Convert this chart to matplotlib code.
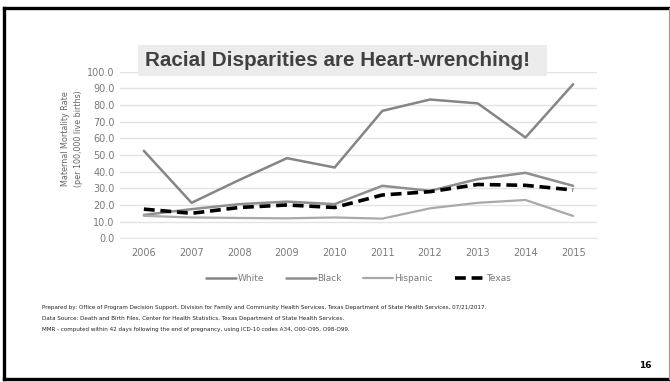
import matplotlib
matplotlib.use("Agg")
import matplotlib.pyplot as plt
from matplotlib.patches import Rectangle
from matplotlib.lines import Line2D
from matplotlib import font_manager

years = ["2006", "2007", "2008", "2009", "2010", "2011", "2012", "2013", "2014", "2015"]
white = [52.5, 21.3, 35.0, 48.1, 42.5, 76.5, 83.3, 81.0, 60.5, 92.5]
black = [14.0, 17.5, 20.5, 22.0, 20.5, 31.5, 28.5, 35.5, 39.3, 31.5]
hispanic = [13.5, 12.5, 12.2, 12.0, 12.5, 11.8, 18.0, 21.3, 23.0, 13.4]
texas = [17.5, 15.0, 18.5, 20.0, 18.5, 26.0, 28.0, 32.3, 31.8, 29.0]
yticks = [0, 10, 20, 30, 40, 50, 60, 70, 80, 90, 100]

names = {f.name for f in font_manager.fontManager.ttflist}
narrow = "Liberation Sans Narrow" if "Liberation Sans Narrow" in names else "DejaVu Sans"

fig = plt.figure(figsize=(6.7, 3.82), dpi=100)
W, H = 670, 382

def fx(px):
    return px / W

def fy(py):
    return 1 - py / H

# slide frame: heavy on three sides, light on the right
frame_kw = dict(transform=fig.transFigure, color="black", lw=2.4, solid_capstyle="projecting")
fig.add_artist(Line2D([fx(4), fx(668)], [fy(8), fy(8)], **frame_kw))
fig.add_artist(Line2D([fx(4), fx(4)], [fy(8), fy(379)], **frame_kw))
fig.add_artist(Line2D([fx(4), fx(668)], [fy(379), fy(379)], **frame_kw))
fig.add_artist(Line2D([fx(668.5), fx(668.5)], [fy(8), fy(379)], transform=fig.transFigure,
                      color="#9a9a9a", lw=0.8))

ax = fig.add_axes([fx(120), fy(238.3), fx(597) - fx(120), fy(71.7) - fy(238.3)])
x = list(range(len(years)))
ax.plot(x, white, color="#858585", lw=1.8, label="White", solid_capstyle="round")
ax.plot(x, black, color="#8e8e8e", lw=1.8, label="Black", solid_capstyle="round")
ax.plot(x, hispanic, color="#a9a9a9", lw=1.6, label="Hispanic", solid_capstyle="round")
ax.plot(x, texas, color="black", lw=2.6, ls=(0, (3.0, 1.6)), label="Texas")

ax.set_xlim(-0.5, len(years) - 0.5)
ax.set_ylim(0, 100)
ax.set_yticks(yticks)
ax.set_yticklabels([f"{v:.1f}" for v in yticks])
ax.set_xticks(x)
ax.set_xticklabels(years)
ax.grid(axis="y", color="#e3e3e3", lw=1.0)
ax.set_axisbelow(True)
for s in ["top", "right", "left"]:
    ax.spines[s].set_visible(False)
ax.spines["bottom"].set_color("#e3e3e3")
ax.tick_params(axis="both", length=0, labelsize=7, labelcolor="#7a7a7a", pad=4)
ax.tick_params(axis="x", pad=7)
for lab in ax.get_xticklabels() + ax.get_yticklabels():
    lab.set_family(narrow)

# axis title, sitting a little above the plot's vertical centre
fig.text(fx(72), fy(139), "Maternal Mortality Rate\n(per 100,000 live births)", fontsize=5.8,
         family=narrow, color="#666666", rotation=90, ha="center", va="center",
         multialignment="center", linespacing=1.45)

leg = ax.legend(loc="upper center", bbox_to_anchor=(0.5, -0.165), ncol=4, frameon=False,
                prop={"family": narrow, "size": 6.5}, handlelength=3.3, columnspacing=2.4,
                handletextpad=0.15)
for t in leg.get_texts():
    t.set_color("#7a7a7a")

# title banner
fig.patches.append(Rectangle((fx(138), fy(76)), fx(547) - fx(138), fy(45) - fy(76),
                             transform=fig.transFigure, facecolor="#ececec",
                             edgecolor="none", zorder=1))
fig.text(fx(145), fy(60.5), "Racial Disparities are Heart-wrenching!",
         family="Liberation Sans", fontweight="bold", fontsize=14.9,
         color="#404040", va="center", ha="left", zorder=2)

notes = [
    "Prepared by: Office of Program Decision Support, Division for Family and Community Health Services, Texas Department of State Health Services, 07/21/2017.",
    "Data Source: Death and Birth Files, Center for Health Statistics, Texas Department of State Health Services.",
    "MMR - computed within 42 days following the end of pregnancy, using ICD-10 codes A34, O00-O95, O98-O99.",
]
for i, line in enumerate(notes):
    fig.text(fx(42), fy(307 + 11.5 * i), line, fontsize=4.05, color="#222222",
             family=narrow, va="center", ha="left")

fig.text(fx(645), fy(366), "16", fontsize=6.5, fontweight="bold", color="black",
         ha="center", va="center")

fig.savefig("out.png", dpi=100)
